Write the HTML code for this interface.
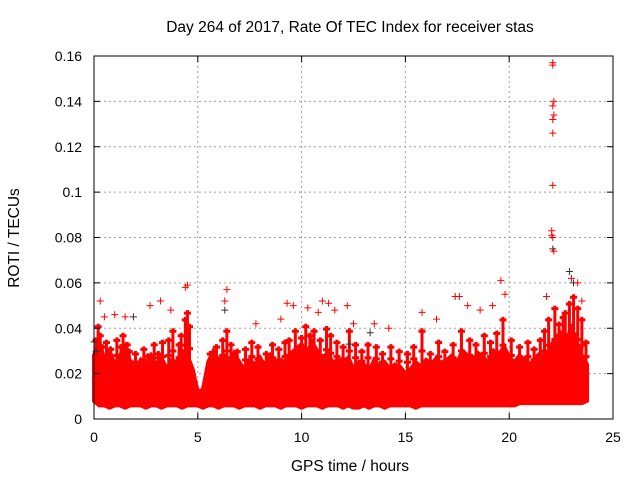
<!DOCTYPE html>
<html><head><meta charset="utf-8"><style>
body{margin:0;background:#fff}
svg{display:block;font-family:"Liberation Sans",sans-serif}
</style></head><body>
<svg id="chart" width="640" height="480">
<text x="350" y="32" font-size="15.5" text-anchor="middle">Day 264 of 2017, Rate Of TEC Index for receiver stas</text>
<text x="350" y="471" font-size="15.5" text-anchor="middle">GPS time / hours</text>
<text transform="translate(19,238) rotate(-90)" font-size="15.5" text-anchor="middle">ROTI / TECUs</text>
<g id="grid"></g><g id="band"></g><g id="marks"></g><g id="axes"></g>
</svg>
<script>
const xTicks=[0,5,10,15,20,25];
const yTicks=[0,0.02,0.04,0.06,0.08,0.1,0.12,0.14,0.16];
const yTickLabels=["0","0.02","0.04","0.06","0.08","0.1","0.12","0.14","0.16"];
const bandTimes=[0,0.25,0.5,0.75,1,1.25,1.5,1.75,2,2.25,2.5,2.75,3,3.25,3.5,3.75,4,4.25,4.5,4.75,5,5.25,5.5,5.75,6,6.25,6.5,6.75,7,7.25,7.5,7.75,8,8.25,8.5,8.75,9,9.25,9.5,9.75,10,10.25,10.5,10.75,11,11.25,11.5,11.75,12,12.25,12.5,12.75,13,13.25,13.5,13.75,14,14.25,14.5,14.75,15,15.25,15.5,15.75,16,16.25,16.5,16.75,17,17.25,17.5,17.75,18,18.25,18.5,18.75,19,19.25,19.5,19.75,20,20.25,20.5,20.75,21,21.25,21.5,21.75,22,22.25,22.5,22.75,23,23.25,23.5,23.75];
const bandUpper=[0.028,0.034,0.026,0.03,0.024,0.028,0.032,0.025,0.022,0.026,0.023,0.028,0.024,0.027,0.022,0.026,0.025,0.03,0.028,0.022,0.012,0.013,0.025,0.03,0.026,0.028,0.024,0.029,0.025,0.022,0.026,0.024,0.027,0.023,0.028,0.025,0.026,0.024,0.029,0.031,0.033,0.028,0.034,0.03,0.027,0.029,0.025,0.026,0.024,0.027,0.022,0.025,0.024,0.021,0.026,0.023,0.025,0.022,0.024,0.023,0.02,0.022,0.025,0.023,0.026,0.024,0.027,0.024,0.026,0.028,0.025,0.03,0.028,0.026,0.029,0.027,0.025,0.03,0.028,0.032,0.027,0.025,0.028,0.026,0.024,0.027,0.029,0.026,0.032,0.036,0.038,0.035,0.04,0.033,0.028,0.024];
const bandLower=[0.008,0.006,0.006,0.005,0.006,0.006,0.005,0.006,0.006,0.006,0.005,0.006,0.006,0.005,0.006,0.006,0.006,0.005,0.006,0.006,0.006,0.005,0.006,0.006,0.005,0.006,0.006,0.006,0.005,0.006,0.006,0.006,0.005,0.006,0.006,0.006,0.005,0.006,0.006,0.006,0.005,0.006,0.006,0.006,0.005,0.006,0.006,0.006,0.005,0.006,0.005,0.005,0.006,0.005,0.006,0.006,0.005,0.006,0.006,0.006,0.006,0.006,0.005,0.006,0.006,0.006,0.006,0.006,0.006,0.006,0.006,0.006,0.006,0.006,0.006,0.006,0.006,0.006,0.006,0.006,0.006,0.006,0.007,0.007,0.007,0.007,0.007,0.007,0.007,0.007,0.007,0.007,0.007,0.007,0.007,0.008];
const midTimes=[0.1,0.2,0.3,0.4,0.6,0.8,1.1,1.3,1.4,1.6,1.7,2.0,2.4,2.6,2.9,3.1,3.3,3.6,3.8,4.1,4.2,4.4,4.5,4.6,5.6,5.9,6.2,6.4,6.6,6.9,7.3,7.6,7.9,8.3,8.6,8.9,9.2,9.4,9.7,10.0,10.2,10.4,10.6,10.9,11.2,11.4,11.7,12.0,12.3,12.6,12.9,13.2,13.6,13.9,14.3,14.7,15.1,15.4,15.8,16.2,16.6,16.9,17.3,17.7,18.1,18.4,18.8,19.1,19.4,19.7,20.1,20.5,20.9,21.2,21.5,21.7,21.9,22.2,22.4,22.6,22.7,22.9,23.1,23.3,23.5,23.7];
const midVals=[0.036,0.042,0.038,0.033,0.035,0.032,0.036,0.033,0.038,0.034,0.031,0.03,0.032,0.029,0.034,0.03,0.035,0.036,0.04,0.034,0.038,0.045,0.048,0.042,0.03,0.033,0.036,0.04,0.034,0.031,0.032,0.035,0.033,0.03,0.034,0.032,0.035,0.036,0.04,0.037,0.042,0.038,0.04,0.036,0.041,0.038,0.035,0.033,0.04,0.034,0.031,0.034,0.033,0.03,0.033,0.031,0.03,0.033,0.04,0.03,0.035,0.031,0.034,0.04,0.036,0.034,0.038,0.035,0.039,0.045,0.036,0.033,0.035,0.032,0.036,0.04,0.045,0.05,0.043,0.046,0.048,0.052,0.055,0.05,0.045,0.035];
const redTimes=[22.1,22.1,22.15,22.1,22.15,22.1,22.1,22.1,22.05,22.05,22.1,22.15,0.3,0.5,1.0,1.5,2.7,3.2,3.7,4.4,4.5,6.4,6.3,7.8,9.0,9.3,9.6,10.3,10.8,11.0,11.3,11.6,12.2,12.5,13.5,14.2,15.8,16.5,17.4,17.6,18.0,18.6,19.2,19.6,19.8,21.8,23.0,23.3,23.5];
const redVals=[0.157,0.156,0.140,0.138,0.134,0.132,0.126,0.103,0.083,0.081,0.080,0.074,0.052,0.045,0.046,0.045,0.050,0.052,0.048,0.058,0.059,0.057,0.052,0.042,0.044,0.051,0.050,0.049,0.047,0.052,0.051,0.048,0.050,0.042,0.042,0.040,0.047,0.044,0.054,0.054,0.050,0.048,0.050,0.061,0.055,0.054,0.062,0.060,0.052];
const blackTimes=[0.0,0.1,1.9,6.3,12.3,13.3,22.1,22.9,23.1];
const blackVals=[0.034,0.030,0.045,0.048,0.033,0.038,0.075,0.065,0.060];
const X0=94,X1=613,Y0=419,Y1=56;
const xs=v=>X0+(v-0)/(25-0)*(X1-X0);
const ys=v=>Y0-(v-0)/(0.16-0)*(Y0-Y1);
const NS="http://www.w3.org/2000/svg";
function mk(tag,attrs,parent){const e=document.createElementNS(NS,tag);for(const k in attrs)e.setAttribute(k,attrs[k]);parent.appendChild(e);return e;}
const grid=document.getElementById('grid'),axes=document.getElementById('axes'),band=document.getElementById('band'),marks=document.getElementById('marks');
xTicks.forEach(t=>{const x=xs(t);
 if(t>0&&t<25){const g=mk('line',{x1:x,x2:x,y1:Y1,y2:Y0,stroke:'#a0a0a0','stroke-dasharray':'2,3'},grid);}
 mk('line',{x1:x,x2:x,y1:Y0,y2:Y0-6,stroke:'#000'},axes);mk('line',{x1:x,x2:x,y1:Y1,y2:Y1+6,stroke:'#000'},axes);
 const l=mk('text',{x:x,y:Y0+23,'font-size':14,'text-anchor':'middle'},axes);l.textContent=t;
 });
yTicks.forEach((t,i)=>{const y=ys(t);
 if(i>0&&i<yTicks.length-1){const g=mk('line',{x1:X0,x2:X1,y1:y,y2:y,stroke:'#a0a0a0','stroke-dasharray':'2,3'},grid);}
 mk('line',{x1:X0,x2:X0+6,y1:y,y2:y,stroke:'#000'},axes);mk('line',{x1:X1,x2:X1-6,y1:y,y2:y,stroke:'#000'},axes);
 const l=mk('text',{x:X0-12,y:y+5,'font-size':14,'text-anchor':'end'},axes);l.textContent=yTickLabels[i];
 });
const fr=mk('rect',{x:X0,y:Y1,width:X1-X0,height:Y0-Y1,fill:'none',stroke:'#000'},axes);

let pts=bandTimes.map((t,i)=>xs(t)+','+ys(bandUpper[i]));
for(let i=bandTimes.length-1;i>=0;i--)pts.push(xs(bandTimes[i])+','+ys(bandLower[i]));
const poly=mk('polygon',{points:pts.join(' '),fill:'#ff0000',stroke:'#ff0000','stroke-width':4,'stroke-linejoin':'miter'},band);

function plus(t,v,c,name){const x=xs(t),y=ys(v);
 const p=mk('path',{d:`M${x-3.5},${y}H${x+3.5}M${x},${y-3.5}V${y+3.5}`,stroke:c,'stroke-width':1},marks);
 }
function spike(t,v){const x=xs(t),y=ys(v),yb=ys(0.02);
 const p=mk('path',{d:`M${x},${yb}V${y}M${x-3.5},${y+3}H${x+3.5}M${x-3.5},${(y+yb)/2}H${x+3.5}`,stroke:'#ff0000','stroke-width':3},marks);
 }
midTimes.forEach((t,i)=>spike(t,midVals[i]));
blackTimes.forEach((t,i)=>plus(t,blackVals[i],'#333','roti-point-black'));
redTimes.forEach((t,i)=>plus(t,redVals[i],'#ff0000','roti-point'));
</script>
</body></html>
